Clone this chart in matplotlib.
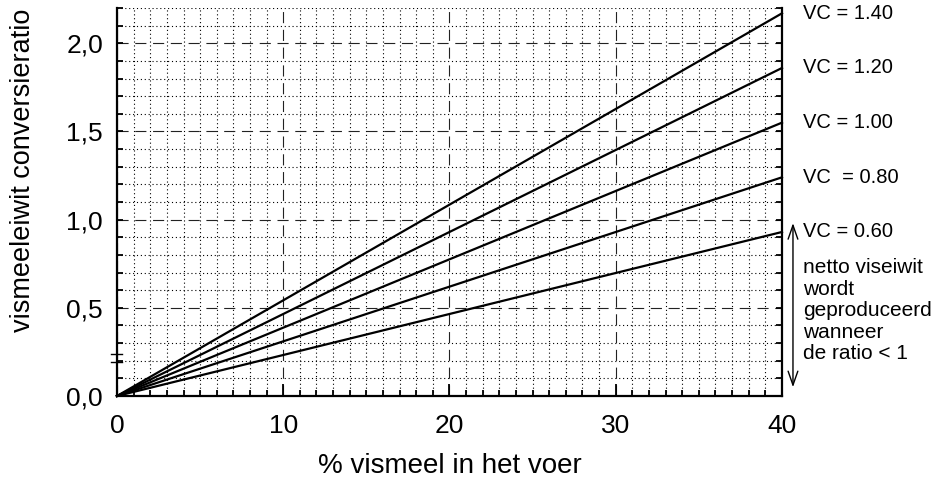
import numpy as np
import matplotlib
matplotlib.use("Agg")
import matplotlib.pyplot as plt
from matplotlib.ticker import MultipleLocator, FuncFormatter

plt.rcParams["font.family"] = ["Liberation Sans", "DejaVu Sans"]

# data: ratio at 0 % and 40 % fishmeal for each VC line
x_pct = [0, 40]
vc_labels = ["VC = 1.40", "VC = 1.20", "VC = 1.00", "VC  = 0.80", "VC = 0.60"]
ratio_at_0 = [0.0, 0.0, 0.0, 0.0, 0.0]
ratio_at_40 = [2.17, 1.86, 1.55, 1.24, 0.93]

# the "ratio < 1" range marked by the double arrow
arrow_range = [0.05, 0.98]
note = "netto viseiwit\nwordt\ngeproduceerd\nwanneer\nde ratio < 1"

# two stray tick marks on the left axis of the original
stray_marks = [0.19, 0.24]

fig = plt.figure(figsize=(9.39, 4.86), dpi=100)
ax = fig.add_axes([117 / 939, 1 - 396 / 486, 665 / 939, 388 / 486])

for lab, y0, y1 in zip(vc_labels, ratio_at_0, ratio_at_40):
    ax.plot(x_pct, [y0, y1], color="black", lw=1.6, zorder=3, clip_on=False)
    ax.annotate(lab, xy=(x_pct[-1], y1), xytext=(15, 0), textcoords="offset points",
                va="center", ha="left", fontsize=14.5, annotation_clip=False)

ax.set_xlim(0, 40)
ax.set_ylim(0, 2.2)

ax.xaxis.set_major_locator(MultipleLocator(10))
ax.xaxis.set_minor_locator(MultipleLocator(1))
ax.yaxis.set_major_locator(MultipleLocator(0.5))
ax.yaxis.set_minor_locator(MultipleLocator(0.1))
ax.yaxis.set_major_formatter(FuncFormatter(lambda v, p: f"{v:.1f}".replace(".", ",")))

ax.grid(which="minor", color="black", lw=0.8, linestyle=(0, (1, 2.5)))
ax.grid(which="major", color="#222222", lw=0.8, linestyle=(0, (10, 6)))
ax.set_axisbelow(True)

for side in ["left", "bottom", "right"]:
    ax.spines[side].set_linewidth(1.6)
ax.spines["top"].set_visible(False)

ax.tick_params(axis="x", which="major", direction="in", length=9, width=1.3,
               labelsize=19, pad=13)
ax.tick_params(axis="x", which="minor", direction="in", length=4, width=1.3)
ax.tick_params(axis="y", which="both", direction="in", length=4.5, width=1.3,
               right=True, labelsize=19, pad=10)

for m in stray_marks:
    ax.plot([-0.36, 0.3], [m, m], color="black", lw=1.0, clip_on=False)

ax.set_xlabel("% vismeel in het voer", fontsize=20, labelpad=11)
fig.text(0.024, 0.65, "vismeeleiwit conversieratio", rotation=90,
         va="center", ha="center", fontsize=19.5)

ax.annotate("", xy=(40.66, arrow_range[0]), xytext=(40.66, arrow_range[1]),
            arrowprops=dict(arrowstyle="<->,head_length=1.0,head_width=0.35",
                            color="black", lw=1.0, shrinkA=0, shrinkB=0),
            annotation_clip=False)
ax.annotate(note, xy=(40, 0.78), xytext=(15, 0), textcoords="offset points",
            va="top", ha="left", fontsize=15, linespacing=1.16,
            annotation_clip=False)

fig.savefig("out.png", dpi=100)
